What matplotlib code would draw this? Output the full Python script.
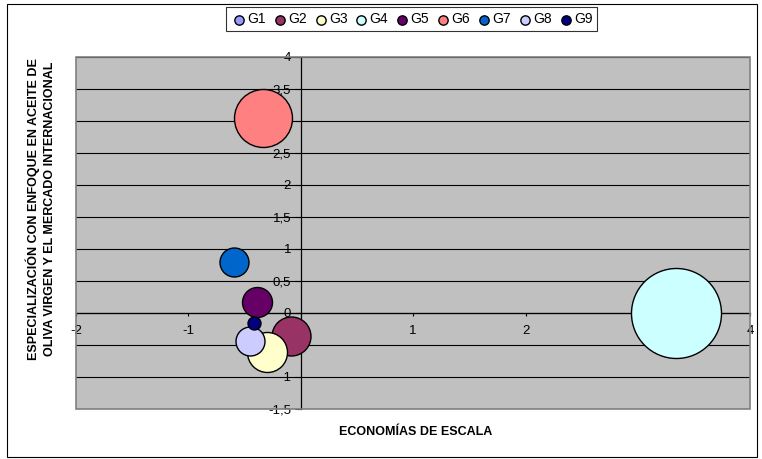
import numpy as np
import matplotlib
matplotlib.use("Agg")
from matplotlib import pyplot as plt
from matplotlib.ticker import FuncFormatter, MultipleLocator
from matplotlib.patches import Rectangle

plt.rcParams['font.family'] = ['Liberation Sans', 'DejaVu Sans']

# groups, position and bubble size
groups = ['G1', 'G2', 'G3', 'G4', 'G5', 'G6', 'G7', 'G8', 'G9']
x_vals = [-0.45, -0.09, -0.30, 3.34, -0.39, -0.34, -0.59, -0.45, -0.42]
y_vals = [-0.44, -0.36, -0.61, 0.0, 0.17, 3.05, 0.79, -0.44, -0.15]
bubble = [10, 19.5, 20, 45, 15, 29, 14.5, 14.5, 6.5]
colors = ['#9999FF', '#993366', '#FFFFCC', '#CCFFFF', '#660066',
          '#FF8080', '#0066CC', '#CCCCFF', '#000080']

fig = plt.figure(figsize=(7.62, 4.59), dpi=100)
ax = fig.add_axes([0.0997, 0.109, 0.8849, 0.767])
ax.set_facecolor('#C0C0C0')

# bubble radius in pixels -> marker area in points^2
for g, x, y, r, c in zip(groups, x_vals, y_vals, bubble, colors):
    ax.scatter(x, y, s=(2 * r * 0.72) ** 2, color=c, edgecolors='black',
               linewidths=1.0, label=g, zorder=3)

ax.set_xlim(-2, 4)
ax.set_ylim(-1.5, 4)
ax.yaxis.set_major_locator(MultipleLocator(0.5))
ax.xaxis.set_major_locator(MultipleLocator(1))
ax.grid(axis='y', color='black', lw=0.8)
ax.set_axisbelow(True)

fmt = FuncFormatter(lambda v, p: ('%g' % v).replace('.', ','))
ax.xaxis.set_major_formatter(fmt)
ax.yaxis.set_major_formatter(fmt)

ax.spines['left'].set_position(('data', 0))
ax.spines['bottom'].set_position(('data', 0))
ax.spines['top'].set_visible(False)
ax.spines['right'].set_visible(False)
for s in ('left', 'bottom'):
    ax.spines[s].set_linewidth(0.9)
    ax.spines[s].set_zorder(2.5)
ax.tick_params(axis='y', labelsize=9.5, length=4, width=0.8, direction='out', pad=3)
ax.tick_params(axis='x', labelsize=9.5, length=2.5, width=0.8, direction='out', pad=6)
ax.add_patch(Rectangle((0, 0), 1, 1, transform=ax.transAxes, fill=False,
                       edgecolor='#808080', lw=1.2, zorder=4, clip_on=False))

fig.text(0.545, 0.058, 'ECONOMÍAS DE ESCALA', ha='center', va='center',
         fontsize=9, fontweight='bold')
fig.text(0.054, 0.545, 'ESPECIALIZACIÓN CON ENFOQUE EN ACEITE DE\nOLIVA VIRGEN Y EL MERCADO INTERNACIONAL',
         ha='center', va='center', rotation=90, fontsize=9, fontweight='bold',
         linespacing=1.45)

leg = fig.legend(loc='center', bbox_to_anchor=(0.54, 0.958), ncol=9,
                 fontsize=10, handletextpad=0.0, columnspacing=0.4,
                 borderpad=0.35, fancybox=False, edgecolor='black',
                 markerscale=1, handlelength=1.2)
for h in leg.legend_handles:
    h.set_sizes([45])
leg.get_frame().set_linewidth(0.8)

fig.add_artist(Rectangle((0.009, 0.004), 0.985, 0.987, transform=fig.transFigure,
                         fill=False, edgecolor='black', lw=0.8))

fig.savefig('out.png', dpi=100)
